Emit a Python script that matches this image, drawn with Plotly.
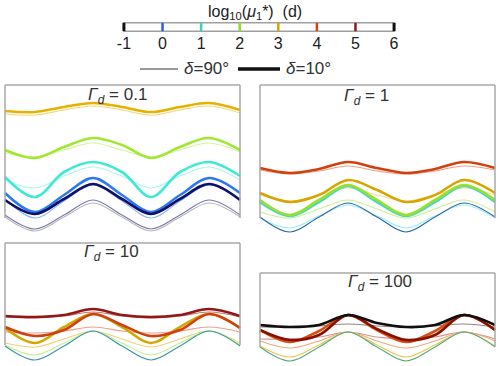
import plotly.graph_objects as go

# sample positions along each panel (one period ~116 units, two periods shown)
x_pts = [0, 30, 59, 88, 117, 146, 175, 204, 235]

# colour scale ticks  log10(mu1*) (d)
cb_vals = [-1, 0, 1, 2, 3, 4, 5, 6]
cb_colors = ["#101010", "#2a62d8", "#34d4c4", "#94dc24", "#d8a400", "#d04414", "#8c1a1a", "#101010"]

# --- Gamma_d = 0.1 ---
g1_delta = [90, 10, 90, 10, 90, 10, 90, 10, 10, 90, 90]
g1_y = [
    [121, 120, 125, 129, 125, 120, 125, 129, 122],
    [124, 123, 128, 132, 128, 123, 128, 132, 125],
    [82, 78, 85, 92, 85, 78, 85, 92, 83],
    [85, 77, 88, 97, 90, 77, 88, 97, 85],
    [55, 47, 59, 68, 59, 47, 59, 68, 55],
    [58, 38, 63, 73, 63, 38, 63, 73, 59],
    [36, 17, 34, 50, 34, 17, 34, 50, 36],
    [42, 23, 40, 57, 40, 23, 40, 57, 42],
    [35, 21, 36, 51, 36, 21, 36, 51, 35],
    [20, 6, 20, 35, 20, 6, 20, 35, 20],
    [18, 4, 18, 32, 18, 4, 18, 32, 18],
]
g1_colors = ["#f5d77a", "#e8b000", "#d4f59a", "#a0e830", "#a8f5ef", "#40e8d8",
             "#8cb8f8", "#2c78f0", "#10106a", "#7878b0", "#b8b8b8"]

# --- Gamma_d = 1 ---
g2_delta = [90, 10, 90, 10, 90, 90, 90, 10, 10]
g2_y = [
    [65, 61, 64, 69, 64, 61, 64, 69, 65],
    [67, 62, 66, 73, 67, 62, 66, 73, 67],
    [40, 34, 40, 47, 40, 34, 40, 47, 40],
    [42, 33, 40, 55, 45, 33, 40, 55, 42],
    [23, 17, 26, 35, 26, 17, 26, 35, 23],
    [17, 7, 19, 30, 19, 7, 19, 30, 17],
    [18, 3, 18, 32, 18, 3, 18, 32, 18],
    [33, 19, 33, 49, 33, 19, 33, 49, 33],
    [35, 20, 35, 50, 35, 20, 35, 50, 35],
]
g2_colors = ["#f0a080", "#d04010", "#f5dc90", "#d8a400", "#c8f090", "#98f0f0",
             "#3068a8", "#40d8c8", "#98e030"]

# --- Gamma_d = 10 ---
g3_delta = [90, 10, 90, 90, 90, 90, 10, 10]
g3_y = [
    [46, 45, 47, 51, 47, 45, 47, 51, 46],
    [47, 46, 48, 54, 48, 46, 48, 54, 47],
    [31, 30, 32, 36, 32, 30, 32, 36, 31],
    [20, 16, 24, 32, 24, 16, 24, 32, 20],
    [18, 8, 20, 32, 20, 8, 20, 32, 18],
    [17, 3, 17, 32, 17, 3, 17, 32, 17],
    [35, 20, 36, 49, 36, 20, 36, 49, 35],
    [36, 27, 33, 49, 38, 27, 33, 49, 35],
]
g3_colors = ["#c87878", "#901818", "#f0a088", "#f0d078", "#c0f088", "#3898a8",
             "#d0a800", "#d04010"]

# --- Gamma_d = 100 ---
g4_delta = [90, 90, 90, 90, 90, 10, 10, 10]
g4_y = [
    [36, 36, 37, 39, 37, 36, 37, 39, 36],
    [24, 24, 26, 31, 26, 24, 26, 31, 24],
    [22, 15, 22, 31, 22, 15, 22, 31, 22],
    [17, 6, 18, 31, 18, 6, 18, 31, 17],
    [16, 2, 16, 31, 16, 2, 16, 31, 16],
    [33, 21, 32, 48, 33, 21, 32, 48, 33],
    [33, 23, 28, 48, 34, 23, 28, 48, 33],
    [38, 36, 38, 48, 40, 36, 38, 48, 38],
]
g4_colors = ["#a08080", "#d89090", "#f0a878", "#e8c848", "#58a880", "#d85010",
             "#881000", "#101010"]

gammas = ["0.1", "1", "10", "100"]

W, H = 500, 366
FONT = "Arial, Liberation Sans, sans-serif"
PAD = 3  # extra room so borders and thick lines are not clipped

# panel geometry in pixels: left, right, top, bottom, y-range top, border bottom value
panels = [
    (5, 240, 85, 235, 150, 17),
    (260, 495, 85, 235, 150, 17),
    (5, 240, 243, 363, 120, 18),
    (260, 495, 273, 363, 90, 16),
]
label_pos = [(117, 96), (366, 97), (111, 253), (380, 283)]

fig = go.Figure()

all_y = [g1_y, g2_y, g3_y, g4_y]
all_d = [g1_delta, g2_delta, g3_delta, g4_delta]
all_c = [g1_colors, g2_colors, g3_colors, g4_colors]

layout = dict(
    template="none",
    width=W, height=H, margin=dict(l=0, r=0, t=0, b=0, pad=0, autoexpand=False),
    paper_bgcolor="white", plot_bgcolor="rgba(0,0,0,0)",
    font=dict(family=FONT, color="#333333"),
    showlegend=False,
)
shapes = []
annotations = []


def px_ann(x, y, text, size, anchor="center", color="#333333"):
    return dict(x=x / W, y=1 - y / H, xref="paper", yref="paper", showarrow=False,
                xanchor=anchor, yanchor="middle", text=text,
                font=dict(size=size, color=color))


for i, (l, r, t, b, ytop, yb) in enumerate(panels):
    n = "" if i == 0 else str(i + 1)
    xa, ya = "x" + n, "y" + n
    layout["xaxis" + n] = dict(domain=[(l - PAD) / W, (r + PAD) / W],
                              range=[-PAD, 235 + PAD], visible=False,
                              automargin=False, anchor=ya)
    layout["yaxis" + n] = dict(domain=[1 - (b + PAD) / H, 1 - (t - PAD) / H],
                              range=[-PAD, ytop + PAD], visible=False,
                              automargin=False, anchor=xa)
    # thin lines first, thick on top
    order = [k for k in range(len(all_y[i])) if all_d[i][k] == 90] + \
            [k for k in range(len(all_y[i])) if all_d[i][k] == 10]
    for k in order:
        thick = all_d[i][k] == 10
        fig.add_trace(go.Scatter(
            x=x_pts, y=all_y[i][k], mode="lines", xaxis=xa, yaxis=ya,
            line=dict(color=all_c[i][k], width=2.6 if thick else 1.1,
                      shape="spline", smoothing=1.0),
            showlegend=False, hoverinfo="skip",
        ))
    bc = "#a8a8a8"
    for x0, y0, x1, y1 in [(0, yb, 0, ytop), (0, ytop, 235, ytop), (235, ytop, 235, yb)]:
        shapes.append(dict(type="line", xref=xa, yref=ya,
                           x0=x0, y0=y0, x1=x1, y1=y1,
                           line=dict(color=bc, width=1.5)))
    lx, ly = label_pos[i]
    annotations.append(px_ann(lx, ly, "<i>Γ</i><sub><i>d</i></sub> = " + gammas[i], 17))

# colour scale bar
layout["xaxis5"] = dict(domain=[122 / W, 396 / W], range=[-1.05, 6.05], anchor="y5",
                        tickvals=cb_vals, ticktext=[str(v) for v in cb_vals],
                        ticks="", showline=False, showgrid=False, zeroline=False,
                        automargin=False,
                        tickfont=dict(size=16, color="#222222"))
layout["yaxis5"] = dict(domain=[1 - 32 / H, 1 - 22 / H], range=[-0.1, 1.1], visible=False,
                        automargin=False, anchor="x5")
shapes.append(dict(type="rect", xref="x5", yref="y5", x0=-1, x1=6, y0=0, y1=1,
                   line=dict(color="#a0a0a0", width=1.5)))
for v, c in zip(cb_vals, cb_colors):
    shapes.append(dict(type="line", xref="x5", yref="y5", x0=v, x1=v, y0=0, y1=1,
                       line=dict(color=c, width=3 if c == "#101010" else 2.5)))
fig.add_trace(go.Scatter(x=[None], y=[None], xaxis="x5", yaxis="y5",
                         showlegend=False))

annotations.append(px_ann(255, 12, "log<sub>10</sub>(<i>μ</i><sub>1</sub>*) &nbsp;(d)", 16,
                          color="#222222"))

# hand-drawn legend for the two inclinations
shapes.append(dict(type="line", xref="paper", yref="paper",
                   x0=140 / W, x1=178 / W, y0=1 - 69 / H, y1=1 - 69 / H,
                   line=dict(color="#333333", width=1)))
shapes.append(dict(type="line", xref="paper", yref="paper",
                   x0=238 / W, x1=280 / W, y0=1 - 69 / H, y1=1 - 69 / H,
                   line=dict(color="#111111", width=3.5)))
annotations.append(px_ann(182, 68, "<i>δ</i>=90°", 17, anchor="left"))
annotations.append(px_ann(284, 68, "<i>δ</i>=10°", 17, anchor="left"))

layout["shapes"] = shapes
layout["annotations"] = annotations

fig.update_layout(**layout)
fig.write_html("out.html", config={"displayModeBar": False},
               post_script="document.body.style.margin='0';")
